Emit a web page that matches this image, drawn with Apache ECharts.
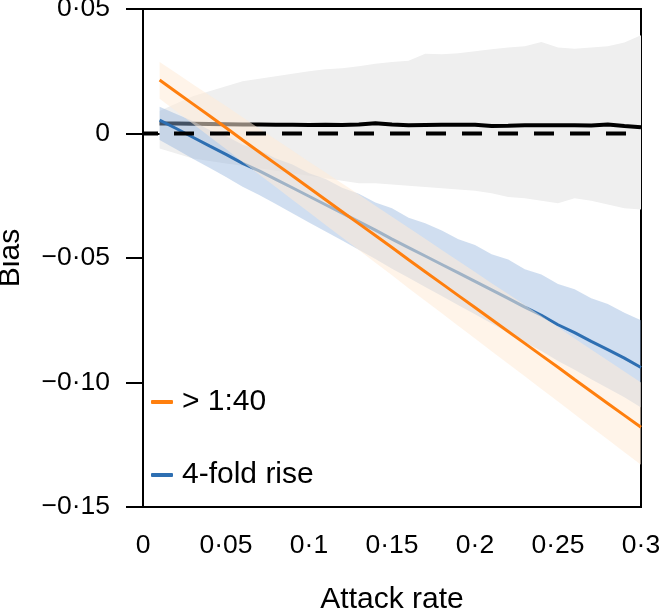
<!DOCTYPE html>
<html>
<head>
<meta charset="utf-8">
<script src="https://cdn.jsdelivr.net/npm/echarts@6/dist/echarts.min.js"></script>
<style>html,body{margin:0;padding:0;background:#fff;}#c{width:659px;height:614px;}</style>
</head>
<body>
<div id="c"></div>
<script>
const attackRate = [0.01,0.02,0.03,0.04,0.05,0.06,0.07,0.08,0.09,0.10,0.11,0.12,0.13,0.14,0.15,0.16,0.17,0.18,0.19,0.20,0.21,0.22,0.23,0.24,0.25,0.26,0.27,0.28,0.29,0.30];

const orangeMid  = [0.0215,0.0167,0.0119,0.0071,0.0023,-0.0026,-0.0074,-0.0122,-0.0170,-0.0218,-0.0266,-0.0314,-0.0362,-0.0410,-0.0458,-0.0507,-0.0555,-0.0603,-0.0651,-0.0699,-0.0747,-0.0795,-0.0843,-0.0891,-0.0939,-0.0988,-0.1036,-0.1084,-0.1132,-0.1180];
const orangeHigh = [0.0287,0.0243,0.0198,0.0154,0.0110,0.0065,0.0020,-0.0024,-0.0068,-0.0113,-0.0157,-0.0201,-0.0245,-0.0290,-0.0334,-0.0379,-0.0423,-0.0468,-0.0512,-0.0556,-0.0601,-0.0645,-0.0689,-0.0733,-0.0778,-0.0823,-0.0867,-0.0912,-0.0956,-0.1000];
const orangeLow  = [0.0140,0.0089,0.0039,-0.0012,-0.0062,-0.0114,-0.0165,-0.0215,-0.0266,-0.0316,-0.0367,-0.0418,-0.0468,-0.0519,-0.0569,-0.0621,-0.0672,-0.0722,-0.0773,-0.0823,-0.0874,-0.0925,-0.0975,-0.1026,-0.1076,-0.1128,-0.1179,-0.1229,-0.1280,-0.1330];

const blueMid  = [0.0054,0.0020,-0.0015,-0.0050,-0.0084,-0.0120,-0.0150,-0.0184,-0.0218,-0.0252,-0.0286,-0.0320,-0.0354,-0.0388,-0.0424,-0.0458,-0.0492,-0.0526,-0.0560,-0.0594,-0.0628,-0.0662,-0.0697,-0.0730,-0.0768,-0.0800,-0.0835,-0.0868,-0.0902,-0.0940];
const blueHigh = [0.0107,0.0078,0.0050,0.0014,-0.0010,-0.0045,-0.0066,-0.0100,-0.0124,-0.0160,-0.0183,-0.0218,-0.0242,-0.0277,-0.0300,-0.0338,-0.0360,-0.0390,-0.0425,-0.0448,-0.0485,-0.0506,-0.0545,-0.0566,-0.0604,-0.0626,-0.0662,-0.0685,-0.0720,-0.0750];
const blueLow  = [-0.0026,-0.0063,-0.0101,-0.0138,-0.0175,-0.0214,-0.0247,-0.0283,-0.0320,-0.0357,-0.0394,-0.0430,-0.0467,-0.0504,-0.0543,-0.0579,-0.0616,-0.0653,-0.0690,-0.0726,-0.0763,-0.0800,-0.0838,-0.0873,-0.0914,-0.0949,-0.0987,-0.1023,-0.1059,-0.1100];

const refMid  = [0.0040,0.0040,0.0039,0.0038,0.0037,0.0036,0.0036,0.0035,0.0035,0.0034,0.0035,0.0034,0.0036,0.0041,0.0036,0.0033,0.0034,0.0035,0.0035,0.0035,0.0030,0.0031,0.0033,0.0033,0.0033,0.0033,0.0032,0.0036,0.0030,0.0025];
const refHigh = [0.0090,0.0120,0.0150,0.0170,0.0190,0.0210,0.0220,0.0230,0.0240,0.0250,0.0258,0.0262,0.0270,0.0280,0.0287,0.0292,0.0320,0.0318,0.0322,0.0330,0.0338,0.0345,0.0350,0.0367,0.0345,0.0340,0.0345,0.0350,0.0365,0.0395];
const refLow  = [-0.0060,-0.0080,-0.0100,-0.0110,-0.0120,-0.0130,-0.0140,-0.0150,-0.0160,-0.0170,-0.0180,-0.0190,-0.0200,-0.0200,-0.0205,-0.0210,-0.0215,-0.0220,-0.0225,-0.0230,-0.0240,-0.0255,-0.0260,-0.0270,-0.0280,-0.0260,-0.0270,-0.0285,-0.0300,-0.0305];

const xTickValues = [0,0.05,0.1,0.15,0.2,0.25,0.3];
const xTickLabels = ['0','0·05','0·1','0·15','0·2','0·25','0·3'];
const yTickValues = [-0.15,-0.1,-0.05,0,0.05];
const yTickLabels = ['\u22120·15','\u22120·10','\u22120·05','0','0·05'];

const seriesNames = ['> 1:40','4-fold rise'];
const FONT = 'Liberation Sans, Arial, sans-serif';

function lookup(vals, labels, v){
  for (let i=0;i<vals.length;i++) if (Math.abs(vals[i]-v)<1e-9) return labels[i];
  return '';
}
function band(low, high, color, z){
  return {
    type:'custom', silent:true, z:z,
    data:[[attackRate[0], high[0]]],
    renderItem:function(params, api){
      const pts=[];
      for (let i=0;i<attackRate.length;i++) pts.push(api.coord([attackRate[i], high[i]]));
      for (let i=attackRate.length-1;i>=0;i--) pts.push(api.coord([attackRate[i], low[i]]));
      return {type:'polygon', shape:{points:pts}, style:{fill:color}};
    }
  };
}
function pairs(ys){ return attackRate.map((x,i)=>[x, ys[i]]); }

const chart = echarts.init(document.getElementById('c'), null, {renderer:'canvas'});
chart.setOption({
  animation:false,
  backgroundColor:'#fff',
  grid:{left:143, right:18, top:9, bottom:107, outerBoundsMode:'none', containLabel:false,
    show:true, borderColor:'#000', borderWidth:2, backgroundColor:'transparent'},
  xAxis:{
    type:'value', min:0, max:0.3, interval:0.05,
    name:'Attack rate', nameLocation:'middle', nameGap:78,
    nameTextStyle:{fontFamily:FONT, fontSize:30, color:'#000'},
    axisLine:{show:true, lineStyle:{color:'#000', width:2}},
    axisTick:{show:true, length:17, lineStyle:{color:'#000', width:2}},
    axisLabel:{margin:25, fontFamily:FONT, fontSize:26.5, color:'#000',
      formatter:v=>lookup(xTickValues, xTickLabels, v)},
    splitLine:{show:false}
  },
  yAxis:{
    type:'value', min:-0.15, max:0.05, interval:0.05,
    name:'Bias', nameLocation:'middle', nameGap:117, nameRotate:90,
    nameTextStyle:{fontFamily:FONT, fontSize:30, color:'#000'},
    axisLine:{show:true, lineStyle:{color:'#000', width:2}},
    axisTick:{show:true, length:17, lineStyle:{color:'#000', width:2}},
    axisLabel:{margin:33, fontFamily:FONT, fontSize:26.5, color:'#000',
      formatter:v=>lookup(yTickValues, yTickLabels, v)},
    splitLine:{show:false}
  },
  legend:{
    orient:'vertical', left:146, top:382, itemGap:43,
    itemWidth:22, itemHeight:4, icon:'roundRect',
    data:seriesNames,
    textStyle:{fontFamily:FONT, fontSize:30, color:'#000', padding:[0,0,0,4]}
  },
  series:[
    band(refLow, refHigh, '#efefef', 1),
    {type:'line', name:'ref', data:pairs(refMid), symbol:'none', z:2, silent:true,
      lineStyle:{color:'#000', width:4}},
    band(blueLow, blueHigh, 'rgba(150,182,222,0.45)', 3),
    {type:'line', name:seriesNames[1], data:pairs(blueMid), symbol:'none', z:4,
      color:'#2e6fb2', lineStyle:{color:'#2e6fb2', width:3}},
    band(orangeLow, orangeHigh, 'rgba(255,235,215,0.55)', 5),
    {type:'line', name:'zero', data:[[0,0],[0.3,0]], symbol:'none', z:6, silent:true,
      lineStyle:{color:'#000', width:4, type:[20,16], dashOffset:5}},
    {type:'line', name:seriesNames[0], data:pairs(orangeMid), symbol:'none', z:7,
      color:'#ff7f0e', lineStyle:{color:'#ff7f0e', width:3}}
  ]
});
</script>
</body>
</html>
